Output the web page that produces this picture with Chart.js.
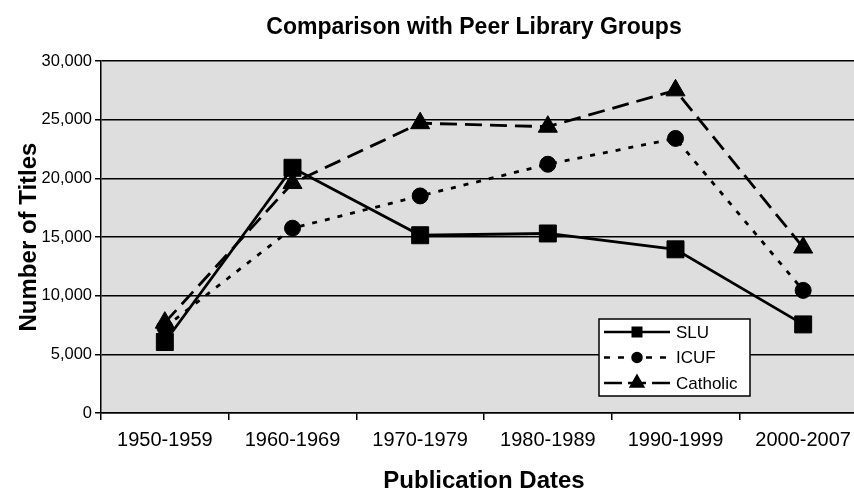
<!DOCTYPE html>
<html>
<head>
<meta charset="utf-8">
<script src="https://cdn.jsdelivr.net/npm/chart.js@4.4.1/dist/chart.umd.min.js"></script>
<style>
  html, body { margin: 0; padding: 0; background: #fff; overflow: hidden; }
  #wrap { position: relative; width: 880px; height: 492px; }
</style>
</head>
<body>
<div id="wrap"><canvas id="peerChart"></canvas></div>
<script>
const chartTitle = 'Comparison with Peer Library Groups';
const categories = ['1950-1959', '1960-1969', '1970-1979', '1980-1989', '1990-1999', '2000-2007'];
const sluValues = [6050, 20900, 15150, 15300, 13950, 7550];
const icufValues = [7300, 15750, 18500, 21200, 23400, 10450];
const catholicValues = [7700, 19600, 24700, 24400, 27500, 14100];
const yTicks = [0, 5000, 10000, 15000, 20000, 25000, 30000];

const FONT = '"Liberation Sans", Arial, Helvetica, sans-serif';

// plot title + legend box drawn by hand so they sit where the original has them
const extras = {
    id: 'extras',
    afterDraw(chart) {
        const ctx = chart.ctx;
        ctx.save();
        ctx.fillStyle = '#000';
        ctx.font = 'bold 23px ' + FONT;
        ctx.textAlign = 'center';
        ctx.textBaseline = 'middle';
        ctx.fillText(chartTitle, 474, 28);

        // legend
        const bx = 599, by = 319, bw = 151, bh = 77;
        ctx.fillStyle = '#fff';
        ctx.fillRect(bx, by, bw, bh);
        ctx.strokeStyle = '#000';
        ctx.lineWidth = 1.5;
        ctx.strokeRect(bx, by, bw, bh);

        chart.data.datasets.forEach((ds, i) => {
            const y = 332 + i * 25.5;
            ctx.setLineDash(ds.legendDash || []);
            ctx.lineWidth = 2.5;
            ctx.beginPath();
            ctx.moveTo(604, y);
            ctx.lineTo(670, y);
            ctx.stroke();
            ctx.setLineDash([]);
            ctx.fillStyle = '#000';
            Chart.helpers.drawPoint(ctx, {
                pointStyle: ds.pointStyle,
                radius: ds.legendRadius,
                rotation: 0,
                borderWidth: 1
            }, 637, y);
            ctx.font = '17px ' + FONT;
            ctx.textAlign = 'left';
            ctx.textBaseline = 'middle';
            ctx.fillText(ds.label, 676, y + 1);
        });
        ctx.restore();
    }
};

const plotBg = {
    id: 'plotBg',
    beforeDraw(chart) {
        const a = chart.chartArea;
        chart.ctx.save();
        chart.ctx.fillStyle = '#dedede';
        chart.ctx.fillRect(a.left, a.top, a.right - a.left, a.bottom - a.top);
        chart.ctx.restore();
    }
};

new Chart(document.getElementById('peerChart'), {
    type: 'line',
    data: {
        labels: categories,
        datasets: [
            {
                label: 'SLU',
                data: sluValues,
                borderDash: [],
                legendDash: [],
                pointStyle: 'rect',
                pointRadius: 12,
                legendRadius: 6
            },
            {
                label: 'ICUF',
                data: icufValues,
                borderDash: [5, 8],
                legendDash: [6, 8],
                pointStyle: 'circle',
                pointRadius: 8,
                legendRadius: 4.5
            },
            {
                label: 'Catholic',
                data: catholicValues,
                borderDash: [17, 8],
                legendDash: [18, 6],
                pointStyle: 'triangle',
                pointRadius: 11,
                legendRadius: 7
            }
        ]
    },
    options: {
        responsive: true,
        maintainAspectRatio: false,
        animation: false,
        layout: { padding: { top: 61, right: 7, left: 0, bottom: 0 } },
        elements: {
            line: { tension: 0, borderColor: '#000', borderWidth: 2.8, fill: false },
            point: { backgroundColor: '#000', borderColor: '#000', borderWidth: 1, hoverRadius: 8 }
        },
        plugins: {
            legend: { display: false },
            title: { display: false },
            tooltip: { enabled: false }
        },
        scales: {
            x: {
                offset: true,
                afterFit: s => { s.height = 79; },
                grid: { offset: true, drawOnChartArea: false, color: '#000', lineWidth: 1.5, tickLength: 7 },
                border: { color: '#000', width: 1.5 },
                ticks: { color: '#000', font: { family: FONT, size: 20 }, padding: 8, maxRotation: 0 },
                title: {
                    display: true,
                    text: 'Publication Dates',
                    color: '#000',
                    font: { family: FONT, size: 24, weight: 'bold', lineHeight: 1 },
                    padding: { top: 0, bottom: -1 }
                }
            },
            y: {
                min: 0,
                max: 30000,
                afterFit: s => { s.width = 101; },
                afterBuildTicks: s => { s.ticks = yTicks.map(v => ({ value: v })); },
                grid: { color: '#000', lineWidth: 1.5, tickLength: 6 },
                border: { color: '#000', width: 1.5 },
                ticks: {
                    color: '#000',
                    font: { family: FONT, size: 16.5 },
                    padding: 3,
                    callback: v => v.toLocaleString('en-US')
                },
                title: {
                    display: true,
                    text: 'Number of Titles',
                    color: '#000',
                    font: { family: FONT, size: 24, weight: 'bold' },
                    padding: { top: 15, bottom: 0 }
                }
            }
        }
    },
    plugins: [plotBg, extras]
});
</script>
</body>
</html>
